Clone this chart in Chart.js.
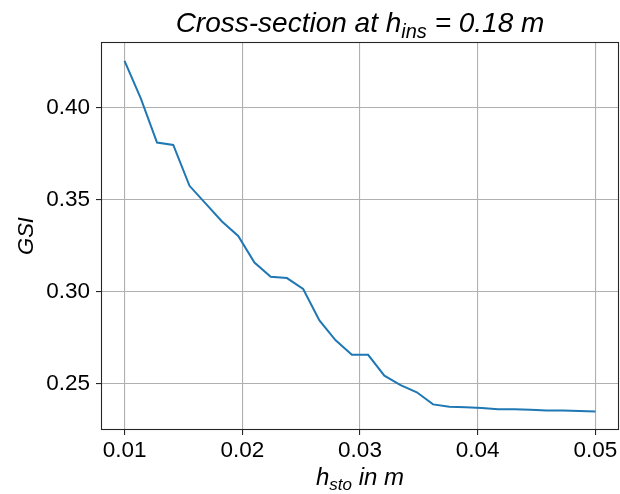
<!DOCTYPE html>
<html>
<head>
<meta charset="utf-8">
<script src="https://cdn.jsdelivr.net/npm/chart.js@4/dist/chart.umd.min.js"></script>
<style>
  html, body { margin: 0; padding: 0; background: #fff; }
  #wrap { width: 620px; height: 494px; }
</style>
</head>
<body>
<div id="wrap"><canvas id="c" width="620" height="494"></canvas></div>
<script>
// ---- data ----
const hSto = [0.01, 0.011379, 0.012759, 0.014138, 0.015517, 0.016897, 0.018276, 0.019655,
  0.021034, 0.022414, 0.023793, 0.025172, 0.026552, 0.027931, 0.02931, 0.03069,
  0.032069, 0.033448, 0.034828, 0.036207, 0.037586, 0.038966, 0.040345, 0.041724,
  0.043103, 0.044483, 0.045862, 0.047241, 0.048621, 0.05];
const gsi = [0.4253, 0.4050, 0.3810, 0.3797, 0.3575, 0.3478, 0.3381, 0.3303,
  0.3158, 0.3081, 0.3074, 0.3015, 0.2844, 0.2736, 0.2657, 0.2657,
  0.2544, 0.2493, 0.2454, 0.2388, 0.2375, 0.2372, 0.2369, 0.2362,
  0.2362, 0.2359, 0.2355, 0.2355, 0.2352, 0.2350];
const xTicks = [0.01, 0.02, 0.03, 0.04, 0.05];
const yTicks = [0.25, 0.30, 0.35, 0.40];
const xLimits = [0.008, 0.052];
const yLimits = [0.2249, 0.4356];

const FONT = "'Liberation Sans', Arial, sans-serif";

function drawMixed(ctx, parts, x, y, size, align) {
  const subSize = Math.round(size * 0.72);
  let total = 0;
  const widths = parts.map(p => {
    ctx.font = 'italic ' + (p.sub ? subSize : size) + 'px ' + FONT;
    const w = ctx.measureText(p.t).width;
    total += w;
    return w;
  });
  let cx = align === 'center' ? x - total / 2 : x;
  parts.forEach((p, i) => {
    ctx.font = 'italic ' + (p.sub ? subSize : size) + 'px ' + FONT;
    ctx.textAlign = 'left';
    ctx.textBaseline = 'alphabetic';
    ctx.fillText(p.t, cx, y + (p.sub ? size * 0.22 : 0));
    cx += widths[i];
  });
}

const decorPlugin = {
  id: 'decor',
  afterDraw(chart) {
    const { ctx, chartArea: a } = chart;
    ctx.save();
    ctx.strokeStyle = '#262626';
    ctx.lineWidth = 1.1;
    ctx.strokeRect(a.left + 0.5, a.top + 0.5, a.right - a.left - 1, a.bottom - a.top - 1);
    ctx.fillStyle = '#000';
    const cx = (a.left + a.right) / 2;
    drawMixed(ctx, [{ t: 'Cross-section at h' }, { t: 'ins', sub: true }, { t: ' = 0.18 m' }], cx, 32, 28, 'center');
    drawMixed(ctx, [{ t: 'h' }, { t: 'sto', sub: true }, { t: ' in m' }], cx, 485, 24, 'center');
    ctx.translate(33, (a.top + a.bottom) / 2);
    ctx.rotate(-Math.PI / 2);
    drawMixed(ctx, [{ t: 'GSI' }], 0, 0, 22, 'center');
    ctx.restore();
  }
};

new Chart(document.getElementById('c'), {
  type: 'line',
  data: {
    datasets: [{
      data: hSto.map((x, i) => ({ x, y: gsi[i] })),
      borderColor: '#1f77b4',
      borderWidth: 2,
      pointRadius: 0,
      tension: 0,
      fill: false
    }]
  },
  options: {
    responsive: false,
    animation: false,
    devicePixelRatio: 1,
    layout: { padding: { top: 42, right: 1, left: 0, bottom: 0 } },
    plugins: { legend: { display: false }, title: { display: false }, tooltip: { enabled: false } },
    scales: {
      x: {
        type: 'linear',
        min: xLimits[0], max: xLimits[1],
        afterBuildTicks(s) { s.ticks = xTicks.map(v => ({ value: v })); },
        afterFit(s) { s.height = 64; },
        ticks: {
          callback: v => v.toFixed(2),
          font: { family: FONT, size: 22.5 },
          color: '#000',
          padding: 2,
          maxRotation: 0
        },
        grid: { color: '#b0b0b0', lineWidth: 1.1, tickLength: 5, tickColor: '#262626', drawTicks: true },
        border: { display: false }
      },
      y: {
        type: 'linear',
        min: yLimits[0], max: yLimits[1],
        afterBuildTicks(s) { s.ticks = yTicks.map(v => ({ value: v })); },
        afterFit(s) { s.width = 101; },
        ticks: {
          callback: v => v.toFixed(2),
          font: { family: FONT, size: 22.5 },
          color: '#000',
          padding: 6
        },
        grid: { color: '#b0b0b0', lineWidth: 1.1, tickLength: 5, tickColor: '#262626', drawTicks: true },
        border: { display: false }
      }
    }
  },
  plugins: [decorPlugin]
});
</script>
</body>
</html>
